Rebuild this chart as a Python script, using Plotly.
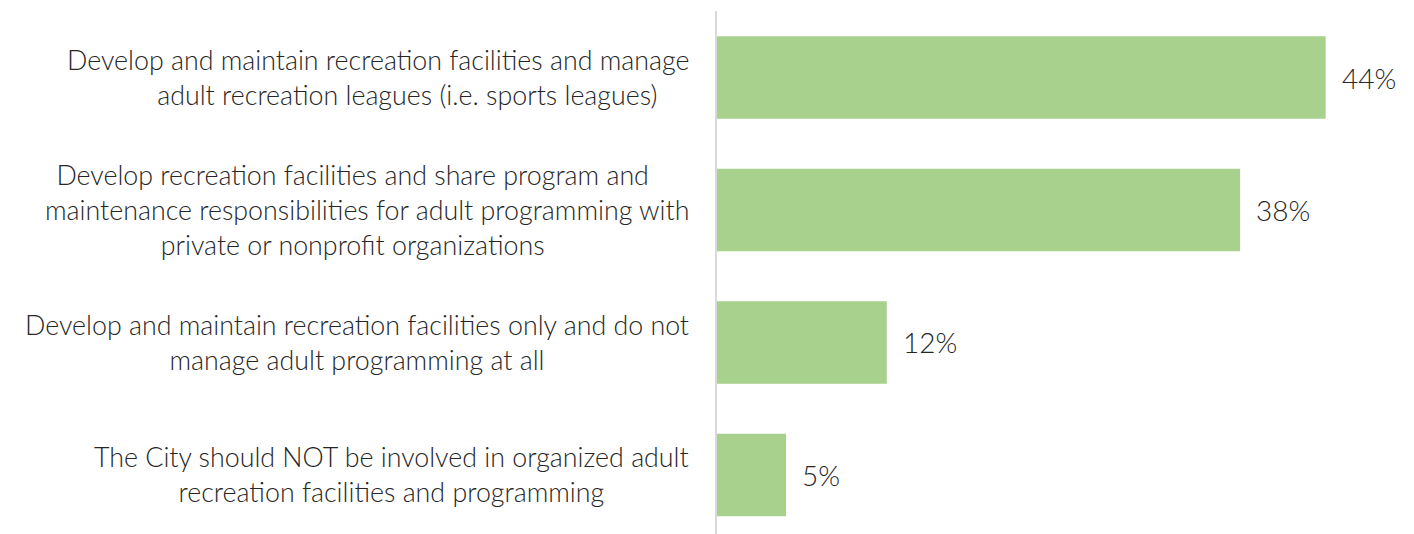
import plotly.graph_objects as go

# survey answers, top to bottom
labels = [
    "Develop and maintain recreation facilities and manage<br>"
    + "&nbsp;" * 8 + "adult recreation leagues (i.e. sports leagues)",
    "Develop recreation facilities and share program and" + "&nbsp;" * 4 + "<br>"
    "maintenance responsibilities for adult programming with<br>"
    "private or nonprofit organizations" + "&nbsp;" * 4,
    "Develop and maintain recreation facilities only and do not<br>"
    "manage adult programming at all",
    "The City should NOT be involved in organized adult<br>"
    "recreation facilities and programming",
]
values = [44.1, 37.9, 12.3, 5.0]
value_text = ["44%", "38%", "12%", "5%"]

FONT = "Lato"
TEXT_COLOR = "#262626"
BAR_COLOR = "#A9D18E"

positions = list(range(len(values)))

fig = go.Figure()
fig.add_trace(
    go.Bar(
        x=values,
        y=positions,
        orientation="h",
        width=0.623,
        marker=dict(color=BAR_COLOR, line=dict(width=0)),
        hoverinfo="skip",
    )
)

# category labels, centred lines, right edge just left of the axis
for pos, lab in zip(positions, labels):
    fig.add_annotation(
        x=0,
        y=pos,
        xref="x",
        yref="y",
        text=lab,
        showarrow=False,
        xanchor="right",
        yanchor="middle",
        align="center",
        xshift=-26,
        font=dict(family=FONT, size=26.8, color=TEXT_COLOR, weight=300),
    )

# percentage labels outside the bars
for pos, val, txt in zip(positions, values, value_text):
    fig.add_annotation(
        x=val,
        y=pos,
        xref="x",
        yref="y",
        text=txt,
        showarrow=False,
        xanchor="left",
        yanchor="middle",
        xshift=14,
        font=dict(family=FONT, size=28, color=TEXT_COLOR, weight=300),
    )

fig.update_xaxes(
    range=[0, 50.5],
    visible=False,
    fixedrange=True,
)
fig.update_yaxes(
    range=[3.446, -0.502],
    showticklabels=False,
    showgrid=False,
    zeroline=False,
    showline=True,
    linecolor="#D9D9D9",
    linewidth=2,
    ticks="",
    fixedrange=True,
)
# page body adds an 8px offset, so the figure is 8px smaller
fig.update_layout(
    width=1406,
    height=526,
    margin=dict(l=709, r=0, t=3, b=0),
    plot_bgcolor="white",
    paper_bgcolor="white",
    showlegend=False,
    font=dict(family=FONT, color=TEXT_COLOR),
)

fig.write_html("out.html", config={"displayModeBar": False})
